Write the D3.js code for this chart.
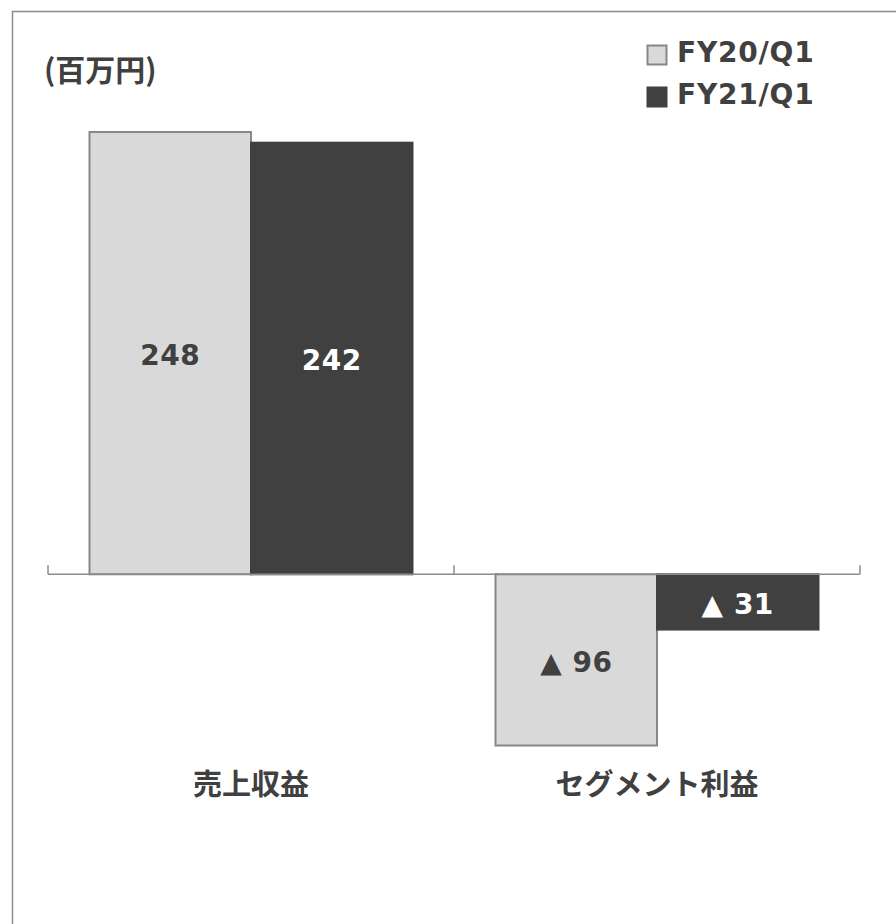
<!DOCTYPE html>
<html><head><meta charset="utf-8">
<script src="https://cdn.jsdelivr.net/npm/d3@7"></script>
<style>
html,body{margin:0;padding:0;background:#fff;}
svg{display:block;}
</style></head>
<body>
<script>
const categories = ["売上収益", "セグメント利益"];
const seriesNames = ["FY20/Q1", "FY21/Q1"];
const fy20 = [248, -96];
const fy21 = [242, -31];
const labelText = ["248", "▲ 96", "242", "▲ 31"];
const unitLabel = "(百万円)";

const W = 896, H = 924;
const svg = d3.select("body").append("svg").attr("width", W).attr("height", H);

const colors = {"FY20/Q1": "#d9d9d9", "FY21/Q1": "#404040"};
const strokes = {"FY20/Q1": "#878787", "FY21/Q1": "#404040"};
const textCol = {"FY20/Q1": "#404040", "FY21/Q1": "#ffffff"};

// frame (top and left edges visible)
svg.append("path").attr("d", `M12.5,${H} L12.5,11.5 L${W},11.5`)
  .attr("fill", "none").attr("stroke", "#8c8c8c").attr("stroke-width", 1.5);

const x0 = d3.scaleBand().domain(categories).range([48, 860]).padding(0);
const x1 = d3.scaleBand().domain(seriesNames).range([0, x0.bandwidth()]).paddingInner(0).paddingOuter(0.257);
const y = d3.scaleLinear().domain([-96, 248]).range([745.5, 132]);

const data = [];
categories.forEach((c, i) => {
  data.push({cat: c, s: "FY20/Q1", v: fy20[i], label: labelText[i]});
  data.push({cat: c, s: "FY21/Q1", v: fy21[i], label: labelText[i + 2]});
});

const g = svg.append("g");
g.selectAll("rect.bar").data(data).enter().append("rect")
  .attr("class", "bar")
  .attr("x", d => x0(d.cat) + x1(d.s))
  .attr("width", x1.bandwidth())
  .attr("y", d => Math.min(y(d.v), y(0)))
  .attr("height", d => Math.abs(y(d.v) - y(0)))
  .attr("fill", d => colors[d.s])
  .attr("stroke", d => strokes[d.s])
  .attr("stroke-width", 2);

// baseline axis with upward ticks at band boundaries
const zeroY = y(0);
const axisColor = "#8c8c8c";
svg.append("line").attr("x1", x0.range()[0]).attr("x2", x0.range()[1])
  .attr("y1", zeroY).attr("y2", zeroY).attr("stroke", axisColor).attr("stroke-width", 1.5);
const bounds = categories.map(c => x0(c)).concat([x0.range()[1]]);
svg.selectAll("line.tick").data(bounds).enter().append("line")
  .attr("x1", d => d).attr("x2", d => d)
  .attr("y1", zeroY - 9).attr("y2", zeroY)
  .attr("stroke", axisColor).attr("stroke-width", 1.5);

// value labels
g.selectAll("text.val").data(data).enter().append("text")
  .attr("x", d => x0(d.cat) + x1(d.s) + x1.bandwidth() / 2)
  .attr("y", d => (y(d.v) + y(0)) / 2 + 12)
  .attr("text-anchor", "middle")
  .attr("font-family", "'DejaVu Sans', Verdana, sans-serif")
  .attr("font-weight", "bold")
  .attr("font-size", 28)
  .attr("letter-spacing", 0.5)
  .attr("fill", d => textCol[d.s])
  .text(d => d.label);

// category labels
svg.selectAll("text.cat").data(categories).enter().append("text")
  .attr("x", d => x0(d) + x0.bandwidth() / 2)
  .attr("y", 795)
  .attr("text-anchor", "middle")
  .attr("font-family", "'Noto Sans CJK JP', sans-serif")
  .attr("font-weight", "bold")
  .attr("font-size", 29)
  .attr("fill", "#404040")
  .text(d => d);

// unit label
svg.append("text").attr("x", 44).attr("y", 81)
  .attr("font-family", "'Noto Sans CJK JP', sans-serif")
  .attr("font-weight", "bold").attr("font-size", 30)
  .attr("fill", "#404040").text(unitLabel);

// legend
const leg = svg.selectAll("g.leg").data(seriesNames).enter().append("g")
  .attr("transform", (d, i) => `translate(647, ${45 + i * 42})`);
leg.append("rect").attr("x", 0.5).attr("y", 0.5).attr("width", 19).attr("height", 19)
  .attr("fill", d => colors[d]).attr("stroke", d => strokes[d]).attr("stroke-width", 2);
leg.append("text").attr("x", 30).attr("y", 17)
  .attr("font-family", "'DejaVu Sans', Verdana, sans-serif")
  .attr("font-weight", "bold").attr("font-size", 28)
  .attr("letter-spacing", 0.8)
  .attr("fill", "#404040").text(d => d);
</script>
</body></html>
